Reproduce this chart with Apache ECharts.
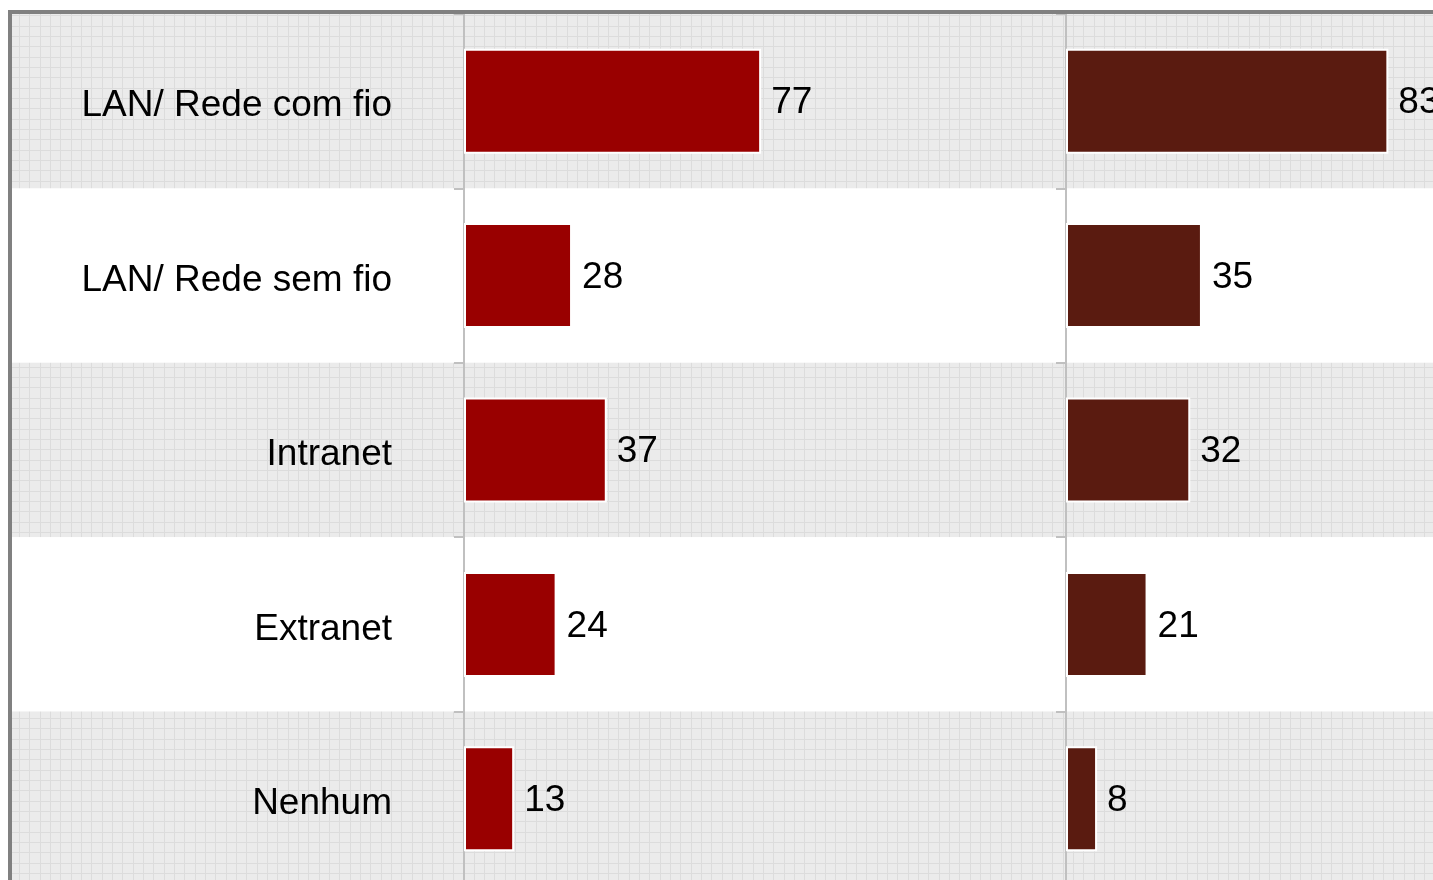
<!DOCTYPE html>
<html>
<head>
<meta charset="utf-8">
<script src="https://cdn.jsdelivr.net/npm/echarts@6/dist/echarts.min.js"></script>
<style>
html,body{margin:0;padding:0;background:#fff;overflow:hidden;width:1433px;height:880px;}
#chart{width:1800px;height:1000px;}
</style>
</head>
<body>
<div id="chart"></div>
<script>
const categories = ['LAN/ Rede com fio', 'LAN/ Rede sem fio', 'Intranet', 'Extranet', 'Nenhum'];
const valuesLeft = [77, 28, 37, 24, 13];
const valuesRight = [83, 35, 32, 21, 8];

// grid-paper tile for the shaded rows
const tile = document.createElement('canvas');
tile.width = 31; tile.height = 31;
const c = tile.getContext('2d');
c.fillStyle = '#ebebeb';
c.fillRect(0, 0, 31, 31);
c.fillStyle = '#dcdcdc';
[9, 19, 29].forEach(x => c.fillRect(x, 0, 1, 31));
[5, 15, 26].forEach(y => c.fillRect(0, y, 31, 1));
const paper = { image: tile, repeat: 'repeat' };

const font = '"Liberation Sans", Arial, sans-serif';
const axisGray = '#c0c0c0';

const chart = echarts.init(document.getElementById('chart'), null, { renderer: 'canvas' });

function barSeries(idx, data, color) {
  return {
    type: 'bar',
    xAxisIndex: idx, yAxisIndex: idx,
    data: data,
    barWidth: 105,
    itemStyle: { color: color, borderColor: '#ffffff', borderWidth: 2 },
    label: {
      show: true, position: 'right', distance: 10, offset: [0, 2],
      fontSize: 37, fontFamily: font, color: '#000'
    },
    animation: false
  };
}

chart.setOption({
  animation: false,
  backgroundColor: '#ffffff',
  grid: [
    { left: 12, top: 14, width: 1700, height: 872, show: false },
    { left: 464, top: 14, width: 602, height: 872, show: false },
    { left: 1066, top: 14, width: 602, height: 872, show: false },
    { left: 10, top: 12, width: 1750, height: 950, show: true, borderColor: '#808080', borderWidth: 4, backgroundColor: 'transparent', z: 5 }
  ],
  xAxis: [
    { gridIndex: 0, type: 'value', show: false },
    { gridIndex: 1, type: 'value', min: 0, max: 156, show: false },
    { gridIndex: 2, type: 'value', min: 0, max: 155, show: false },
    { gridIndex: 3, type: 'value', show: false }
  ],
  yAxis: [
    {
      gridIndex: 0, type: 'category', data: categories, inverse: true,
      axisLine: { show: false }, axisTick: { show: false }, axisLabel: { show: false },
      splitLine: { show: false },
      splitArea: { show: true, areaStyle: { color: [paper, '#ffffff'] } }
    },
    {
      gridIndex: 1, type: 'category', data: categories, inverse: true,
      axisLine: { show: true, lineStyle: { color: axisGray, width: 2 } },
      axisTick: { show: true, length: 10, lineStyle: { color: axisGray, width: 2 } },
      axisLabel: {
        show: true, margin: 72, fontSize: 37, fontFamily: font, color: '#000',
        formatter: '{t|{value}}',
        rich: { t: { fontSize: 37, fontFamily: font, color: '#000', padding: [10, 0, 0, 0] } }
      },
      splitLine: { show: false }
    },
    {
      gridIndex: 2, type: 'category', data: categories, inverse: true,
      axisLine: { show: true, lineStyle: { color: axisGray, width: 2 } },
      axisTick: { show: true, length: 10, lineStyle: { color: axisGray, width: 2 } },
      axisLabel: { show: false },
      splitLine: { show: false }
    },
    { gridIndex: 3, type: 'category', data: categories, show: false }
  ],
  series: [
    barSeries(1, valuesLeft, '#990000'),
    barSeries(2, valuesRight, '#5a1b10')
  ]
});
</script>
</body>
</html>
